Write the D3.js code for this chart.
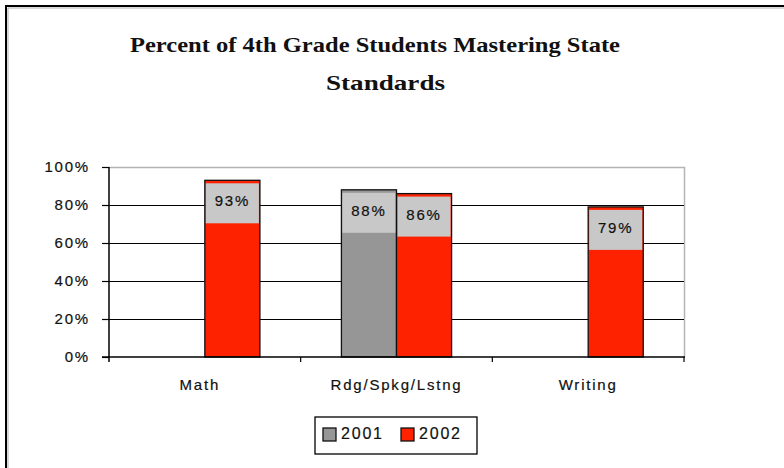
<!DOCTYPE html>
<html>
<head>
<meta charset="utf-8">
<script src="https://cdn.jsdelivr.net/npm/d3@7"></script>
<style>
  body { margin: 0; background: #fff; }
  svg text { font-family: "Liberation Sans", Arial, sans-serif; }
</style>
</head>
<body>
<svg width="784" height="468"></svg>
<script>
let categories = ["Math", "Rdg/Spkg/Lstng", "Writing"];
let years = ["2001", "2002"];
// null = no bar for that year
let values2001 = [null, 88, null];
let values2002 = [93, 86, 79];
let yTicks = [0, 20, 40, 60, 80, 100];
let titleLines = ["Percent of 4th Grade Students Mastering State", "Standards"];

let colors = { "2001": "#969696", "2002": "#ff2200" };

let svg = d3.select("svg"),
    width = +svg.attr("width"),
    height = +svg.attr("height");

let margin = { left: 109, right: 100, top: 167, bottom: 111 };

let x0 = d3.scaleBand()
    .domain(categories)
    .range([margin.left, width - margin.right])
    .paddingInner(0)
    .paddingOuter(0);

let x1 = d3.scaleBand()
    .domain(years)
    .range([0, x0.bandwidth()])
    .paddingInner(0)
    .paddingOuter(0.74);

let y = d3.scaleLinear()
    .domain([0, 100])
    .range([height - margin.bottom, margin.top]);

// bitmap-ish slightly heavier text
function heavy(sel, size) {
    sel.style("font-size", size + "px")
        .style("letter-spacing", "1.8px")
        .attr("fill", "#111")
        .attr("stroke", "#111")
        .attr("stroke-width", 0.2);
}

// frame (only top and left edges show in the crop)
svg.append("path")
    .attr("d", `M6,${height} V6 H${width}`)
    .attr("fill", "none")
    .attr("stroke", "#000")
    .attr("stroke-width", 2);
svg.append("path")
    .attr("d", `M8,${height} V8 H${width}`)
    .attr("fill", "none")
    .attr("stroke", "#b0b0b0")
    .attr("stroke-width", 1);

// title
let titleWidths = [490, 119];
svg.append("g")
    .selectAll("text")
    .data(titleLines)
    .enter().append("text")
        .attr("x", (d, i) => i === 0 ? 130 : 326)
        .attr("y", (d, i) => 52 + i * 38)
        .attr("textLength", (d, i) => titleWidths[i])
        .attr("lengthAdjust", "spacingAndGlyphs")
        .style("font-family", "'Liberation Serif', 'DejaVu Serif', serif")
        .style("font-weight", "bold")
        .style("font-size", "22px")
        .attr("fill", "#111")
        .text(d => d);

// plot border (top/right in gray)
svg.append("path")
    .attr("d", `M${x0.range()[0]},${y(100) + 0.5} H${x0.range()[1] + 0.5} V${y(0)}`)
    .attr("fill", "none")
    .attr("stroke", "#b4b4b4")
    .attr("stroke-width", 1.5);

// gridlines
svg.append("g")
        .attr("class", "grid")
    .selectAll("line")
    .data(yTicks.filter(d => d > 0 && d < 100))
    .enter().append("line")
        .attr("x1", x0.range()[0])
        .attr("x2", x0.range()[1])
        .attr("y1", d => Math.round(y(d)) + 0.5)
        .attr("y2", d => Math.round(y(d)) + 0.5)
        .attr("stroke", "#000")
        .attr("stroke-width", 1.2);

// bars
let rows = categories.map((c, i) => ({ cat: c, vals: [
    { year: "2001", v: values2001[i] },
    { year: "2002", v: values2002[i] }
].filter(d => d.v !== null) }));

let groups = svg.append("g")
        .attr("class", "bars")
    .selectAll("g")
    .data(rows)
    .enter().append("g")
        .attr("transform", d => `translate(${x0(d.cat)},0)`);

let bar = groups.selectAll("g")
    .data(d => d.vals)
    .enter().append("g");

bar.append("rect")
    .attr("x", d => x1(d.year))
    .attr("y", d => y(d.v))
    .attr("width", x1.bandwidth())
    .attr("height", d => y(0) - y(d.v))
    .attr("fill", d => colors[d.year])
    .attr("stroke", "#111")
    .attr("stroke-width", 1.3);

// data labels with gray fill
bar.append("rect")
    .attr("x", d => x1(d.year) + 1)
    .attr("y", d => y(d.v) + 3)
    .attr("width", x1.bandwidth() - 2)
    .attr("height", 40)
    .attr("fill", "#c8c8c8");

bar.append("text")
    .attr("x", d => x1(d.year) + x1.bandwidth() / 2)
    .attr("y", d => y(d.v) + 22)
    .attr("text-anchor", "middle")
    .attr("dominant-baseline", "middle")
    .call(heavy, 15)
    .text(d => d.v + "%");

// y axis
let yAxis = svg.append("g")
    .attr("transform", `translate(${margin.left},0)`)
    .call(d3.axisLeft(y).tickValues(yTicks).tickSize(7).tickPadding(12).tickFormat(d => d + "%"));
yAxis.select(".domain").attr("d", `M0,${y(100)}V${y(0) + 5}`).attr("stroke-width", 1.5);
yAxis.selectAll(".tick line").attr("stroke-width", 1.2);
yAxis.selectAll("text").call(heavy, 15);

// x axis
let boundaries = categories.map(c => x0(c)).concat([x0.range()[1]]);
let xAxis = svg.append("g")
    .attr("transform", `translate(0,${y(0)})`);
xAxis.append("line")
    .attr("x1", x0.range()[0] - 7)
    .attr("x2", x0.range()[1] + 1)
    .attr("stroke", "#000")
    .attr("stroke-width", 1.5);
xAxis.selectAll(".xtick")
    .data(boundaries.slice(1))
    .enter().append("line")
        .attr("class", "xtick")
        .attr("x1", d => d)
        .attr("x2", d => d)
        .attr("y1", 0)
        .attr("y2", 5)
        .attr("stroke", "#000")
        .attr("stroke-width", 1.2);
xAxis.selectAll(".xlabel")
    .data(categories)
    .enter().append("text")
        .attr("class", "xlabel")
        .attr("x", d => x0(d) + x0.bandwidth() / 2 + (d === "Math" ? -5 : 0))
        .attr("y", 33)
        .attr("text-anchor", "middle")
        .call(heavy, 15)
        .text(d => d);

// legend
let legend = svg.append("g")
    .attr("transform", "translate(315,417)");
legend.append("rect")
    .attr("width", 162)
    .attr("height", 37)
    .attr("fill", "#fff")
    .attr("stroke", "#000")
    .attr("stroke-width", 1.3);
let item = legend.selectAll(".item")
    .data(years)
    .enter().append("g")
        .attr("class", "item")
        .attr("transform", (d, i) => `translate(${8 + i * 78},0)`);
item.append("rect")
    .attr("y", 11)
    .attr("width", 13)
    .attr("height", 13)
    .attr("fill", d => colors[d])
    .attr("stroke", "#111")
    .attr("stroke-width", 1.3);
item.append("text")
    .attr("x", 18)
    .attr("y", 18)
    .attr("dominant-baseline", "middle")
    .call(heavy, 16)
    .text(d => d);
</script>
</body>
</html>
